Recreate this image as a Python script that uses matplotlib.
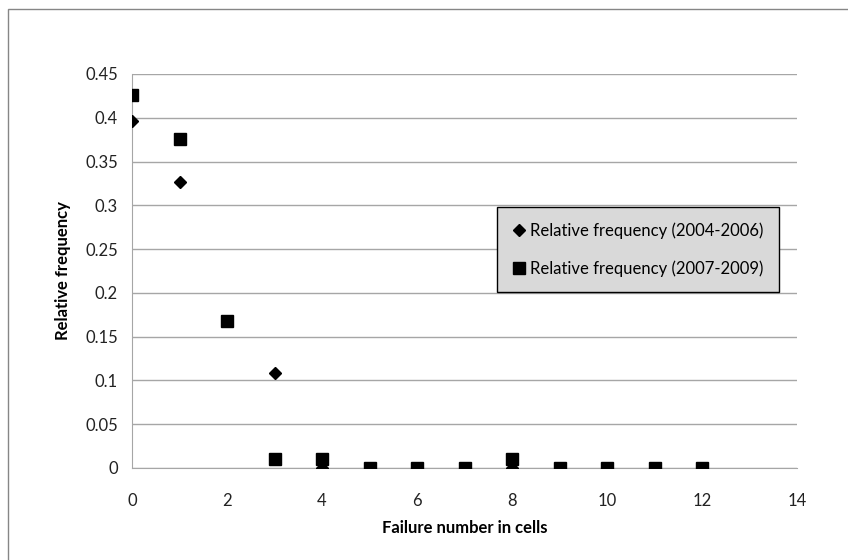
import matplotlib.pyplot as plt
from matplotlib.patches import Rectangle

plt.rcParams['font.family'] = ['Lato', 'DejaVu Sans']

# data
x_0406 = [0, 1, 2, 3, 4, 5, 6, 7, 8, 9, 10, 11, 12]
y_0406 = [0.396, 0.327, 0.168, 0.109, 0, 0, 0, 0, 0, 0, 0, 0, 0]
x_0709 = [0, 1, 2, 3, 4, 5, 6, 7, 8, 9, 10, 11, 12]
y_0709 = [0.426, 0.376, 0.168, 0.01, 0.01, 0, 0, 0, 0.01, 0, 0, 0, 0]

fig = plt.figure(figsize=(8.48, 5.6), dpi=100)
fig.patches.append(Rectangle((8 / 848, -0.1), 2, 1 - 9 / 560 + 0.1, transform=fig.transFigure,
                             fill=False, edgecolor='#868686', lw=1))
ax = fig.add_axes([132 / 848, 1 - 468 / 560, 665 / 848, 394 / 560])

ax.plot(x_0406, y_0406, 'D', color='black', markersize=6, label='Relative frequency (2004-2006)', zorder=3)
ax.plot(x_0709, y_0709, 's', color='black', markersize=8.5, label='Relative frequency (2007-2009)', zorder=3)

ax.set_xlim(0, 14)
ax.set_ylim(0, 0.45)
ax.set_xticks(range(0, 15, 2))
ax.set_yticks([0, 0.05, 0.1, 0.15, 0.2, 0.25, 0.3, 0.35, 0.4, 0.45])
ax.set_yticklabels(['0', '0.05', '0.1', '0.15', '0.2', '0.25', '0.3', '0.35', '0.4', '0.45'])
ax.tick_params(length=0, labelsize=12, colors='#222222')
ax.tick_params(axis='x', pad=18)
ax.tick_params(axis='y', pad=10)
ax.grid(axis='y', color='#a6a6a6', lw=1)
ax.set_axisbelow(True)
for s in ['top', 'right']:
    ax.spines[s].set_visible(False)
ax.spines['left'].set_color('#a6a6a6')
ax.spines['bottom'].set_color('#a6a6a6')

ax.set_xlabel('Failure number in cells', fontsize=12, fontweight='bold', labelpad=8)
ax.set_ylabel('Relative frequency', fontsize=12, fontweight='bold', labelpad=10)

leg = ax.legend(loc='upper left', bbox_to_anchor=(497 / 848, 1 - 207 / 560), bbox_transform=fig.transFigure,
                fontsize=12, frameon=True, fancybox=False, facecolor='#d9d9d9', edgecolor='black',
                framealpha=1, handlelength=0.8, handletextpad=0.3, labelspacing=1.3, borderpad=0.9,
                borderaxespad=0)
leg.get_frame().set_linewidth(1)

fig.savefig('out.png', dpi=100)
